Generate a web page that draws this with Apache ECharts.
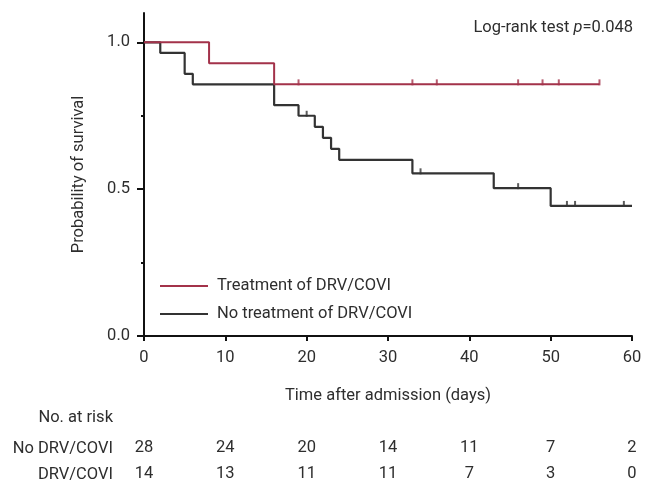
<!DOCTYPE html>
<html>
<head>
<meta charset="utf-8">
<script src="https://cdn.jsdelivr.net/npm/echarts@6/dist/echarts.min.js"></script>
<style>
  html, body { margin: 0; padding: 0; background: #fff; }
  #chart { width: 645px; height: 482px; }
</style>
</head>
<body>
<div id="chart"></div>
<script>
// survival curves (step points)
const treatTimes = [0, 8, 16, 56];
const treatSurv = [1.0, 0.929, 0.857, 0.857];
const noTreatTimes = [0, 2, 5, 6, 16, 19, 21, 22, 23, 24, 33, 43, 50, 60];
const noTreatSurv = [1.0, 0.964, 0.893, 0.857, 0.786, 0.75, 0.7125, 0.675, 0.6375, 0.6, 0.554, 0.5035, 0.443, 0.443];

// censored observations
const treatCensorTimes = [19, 33, 36, 46, 49, 51, 56];
const treatCensorSurv = [0.857, 0.857, 0.857, 0.857, 0.857, 0.857, 0.857];
const noTreatCensorTimes = [20, 34, 46, 52, 53, 59];
const noTreatCensorSurv = [0.75, 0.554, 0.5035, 0.443, 0.443, 0.443];

// number at risk table
const riskTimes = [0, 10, 20, 30, 40, 50, 60];
const riskNoDrv = [28, 24, 20, 14, 11, 7, 2];
const riskDrv = [14, 13, 11, 11, 7, 3, 0];

const seriesNames = ['Treatment of DRV/COVI', 'No treatment of DRV/COVI'];

const RED = '#a3324a';
const DARK = '#333333';
const TXT = '#2e2e2e';
const FONT = 'Roboto, sans-serif';
const FS = 16.5;

const pairs = (xs, ys) => xs.map((x, i) => [x, ys[i]]);

const chart = echarts.init(document.getElementById('chart'));

const riskAxis = (vals, offset) => ({
    type: 'value',
    min: 0,
    max: 60,
    interval: 10,
    position: 'bottom',
    offset: offset,
    axisLine: { show: false },
    axisTick: { show: false },
    splitLine: { show: false },
    axisLabel: {
        margin: 0,
        color: TXT,
        fontFamily: FONT,
        fontSize: FS,
        formatter: v => {
            const i = riskTimes.indexOf(v);
            return i >= 0 ? String(vals[i]) : '';
        }
    }
});

let option = {
    backgroundColor: '#fff',
    animation: false,
    textStyle: { fontFamily: FONT },
    grid: { left: 144, right: 13, top: 13, bottom: 142 },
    legend: {
        data: seriesNames,
        orient: 'vertical',
        left: 160,
        top: 276,
        padding: 0,
        icon: 'rect',
        itemWidth: 48,
        itemHeight: 2,
        itemGap: 8,
        textStyle: { color: TXT, fontFamily: FONT, fontSize: FS, lineHeight: 20, padding: [0, 0, 0, 4] }
    },
    xAxis: [
        {
            type: 'value',
            min: 0,
            max: 60,
            interval: 10,
            name: 'Time after admission (days)',
            nameLocation: 'middle',
            nameGap: 51,
            nameTextStyle: { color: TXT, fontFamily: FONT, fontSize: FS },
            axisLine: { lineStyle: { color: '#111', width: 2 } },
            axisTick: { length: 5, lineStyle: { color: '#111', width: 2 } },
            axisLabel: { margin: 13, color: TXT, fontFamily: FONT, fontSize: FS },
            splitLine: { show: false }
        },
        riskAxis(riskNoDrv, 103),
        riskAxis(riskDrv, 129)
    ],
    yAxis: [
        {
            type: 'value',
            min: 0,
            max: 1.1,
            name: 'Probability of survival',
            nameLocation: 'middle',
            nameGap: 57,
            nameTextStyle: { color: TXT, fontFamily: FONT, fontSize: FS },
            axisLine: { lineStyle: { color: '#111', width: 2 } },
            axisTick: { length: 7, customValues: [0, 0.5, 1], lineStyle: { color: '#111', width: 2 } },
            axisLabel: {
                margin: 14,
                color: TXT,
                fontFamily: FONT,
                fontSize: FS,
                customValues: [0, 0.5, 1],
                formatter: v => v.toFixed(1)
            },
            splitLine: { show: false }
        },
        {
            type: 'value',
            min: 0,
            max: 1.1,
            position: 'left',
            axisLine: { show: false },
            axisTick: { length: 3, customValues: [0.25, 0.75], lineStyle: { color: '#111', width: 2 } },
            axisLabel: { show: false },
            splitLine: { show: false }
        }
    ],
    series: [
        {
            name: seriesNames[0],
            type: 'line',
            step: 'end',
            symbol: 'none',
            data: pairs(treatTimes, treatSurv),
            lineStyle: { color: RED, width: 2 },
            itemStyle: { color: RED },
            z: 3
        },
        {
            name: seriesNames[1],
            type: 'line',
            step: 'end',
            symbol: 'none',
            data: pairs(noTreatTimes, noTreatSurv),
            lineStyle: { color: DARK, width: 2.2 },
            itemStyle: { color: DARK },
            z: 2
        },
        {
            name: 'treat censored',
            type: 'scatter',
            symbol: 'rect',
            symbolSize: [2, 6],
            symbolOffset: [0, -2],
            data: pairs(treatCensorTimes, treatCensorSurv),
            itemStyle: { color: RED },
            z: 4
        },
        {
            name: 'no treat censored',
            type: 'scatter',
            symbol: 'rect',
            symbolSize: [2, 6],
            symbolOffset: [0, -2],
            data: pairs(noTreatCensorTimes, noTreatCensorSurv),
            itemStyle: { color: DARK },
            z: 4
        }
    ],
    graphic: [
        {
            type: 'text',
            right: 12,
            top: 19,
            style: {
                text: '{a|Log-rank test }{i|p}{a|=0.048}',
                rich: {
                    a: { fontFamily: FONT, fontSize: FS, fill: TXT },
                    i: { fontFamily: FONT, fontSize: FS, fontStyle: 'italic', fill: TXT }
                }
            }
        },
        {
            type: 'text',
            x: 113, y: 418,
            style: { text: 'No. at risk', align: 'right', verticalAlign: 'middle', fontFamily: FONT, fontSize: FS, fill: TXT }
        },
        {
            type: 'text',
            x: 113, y: 449,
            style: { text: 'No DRV/COVI', align: 'right', verticalAlign: 'middle', fontFamily: FONT, fontSize: FS, fill: TXT }
        },
        {
            type: 'text',
            x: 113, y: 475,
            style: { text: 'DRV/COVI', align: 'right', verticalAlign: 'middle', fontFamily: FONT, fontSize: FS, fill: TXT }
        }
    ]
};
chart.setOption(option);
</script>
</body>
</html>
